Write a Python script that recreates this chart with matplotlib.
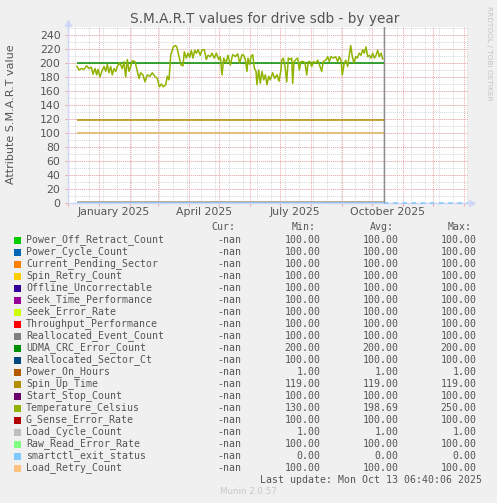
import matplotlib
matplotlib.use('Agg')
import matplotlib.pyplot as plt
from matplotlib.patches import Rectangle
from datetime import datetime, timedelta

W, H = 497, 503

# legend series (in drawing order)
names = ['Power_Off_Retract_Count', 'Power_Cycle_Count', 'Current_Pending_Sector',
         'Spin_Retry_Count', 'Offline_Uncorrectable', 'Seek_Time_Performance',
         'Seek_Error_Rate', 'Throughput_Performance', 'Reallocated_Event_Count',
         'UDMA_CRC_Error_Count', 'Reallocated_Sector_Ct', 'Power_On_Hours',
         'Spin_Up_Time', 'Start_Stop_Count', 'Temperature_Celsius',
         'G_Sense_Error_Rate', 'Load_Cycle_Count', 'Raw_Read_Error_Rate',
         'smartctl_exit_status', 'Load_Retry_Count']
colors = ['#00CC00', '#0066B3', '#FF8000', '#FFCC00', '#330099', '#990099',
          '#CCFF00', '#FF0000', '#808080', '#008F00', '#00487D', '#B35A00',
          '#B38F00', '#6B006B', '#8FB300', '#B30000', '#BEBEBE', '#80FF80',
          '#80C9FF', '#FFC080']
cur_vals = ['-nan'] * 20
min_vals = [100, 100, 100, 100, 100, 100, 100, 100, 100, 200, 100, 1,
            119, 100, 130, 100, 1, 100, 0, 100]
avg_vals = [100, 100, 100, 100, 100, 100, 100, 100, 100, 200, 100, 1,
            119, 100, 198.69, 100, 1, 100, 0, 100]
max_vals = [100, 100, 100, 100, 100, 100, 100, 100, 100, 200, 100, 1,
            119, 100, 250, 100, 1, 100, 0, 100]

# temperature trace: days after data start, value
temp_days = [0, 2, 4.3, 7, 9.7, 12, 14.3, 16, 18, 19.7, 21, 23, 25.3, 27, 28.7,
             30.3, 32, 33.7, 35.3, 37, 38.7, 40.3, 42.7, 45.3, 47, 48.7, 50.3,
             52, 53.7, 55.3, 58, 60.3, 62, 63.7, 66, 68, 70.3, 73, 75.3, 77.7,
             80.3, 82.3, 84.3, 86.3, 88.7, 90.3, 92, 93.7, 96.3, 98.7,
             100, 101.7, 104, 106, 107.3, 109.3, 111, 112.7, 114.3, 116, 117.7,
             119.3, 121, 123.3, 125, 127.3, 129.3, 131, 133.3, 135, 137.3, 139.3,
             141.7, 143.3, 145, 146.7, 149, 151, 153.3, 155.7, 158.3, 160.7,
             162.7, 165, 166.7, 168.3, 170, 171, 172.7, 174, 175.7, 177.3, 179,
             180, 181.7, 183.3, 185, 186.7, 188.3, 190, 191.7, 193.3, 195.7,
             197.7, 200, 202, 204,
             204.7, 206.3, 208, 209.7, 211.3, 213, 214.7, 215.7, 217, 219, 220.7,
             222.3, 224, 226.3, 228, 229.7, 231.3, 233, 234.7, 236.3, 238.7,
             240.7, 242.3, 244.7, 246.3, 248.7, 250.7, 252.3, 254, 256.3, 258.7,
             260.7, 262.3, 264, 265.3, 267, 268.7, 270.7, 272.3, 273.7, 275.3,
             277, 278.7, 280.3, 282.3, 284, 285.7, 287.3, 289, 290.7, 292.3, 294,
             295.7, 297.3, 299, 300.7, 302.3, 304, 305.7]
temp_vals = [195, 190, 192, 191, 196, 192, 194, 184, 192, 183, 191, 180, 190, 195,
             188, 198, 186, 195, 183, 192, 188, 195, 200, 192, 202, 180, 205, 188,
             195, 203, 202, 188, 178, 186, 183, 173, 183, 181, 186, 181, 178, 166,
             170, 166, 169, 181, 176, 211, 223, 225,
             222, 211, 197, 196, 216, 207, 214, 208, 218, 207, 218, 214, 219, 211,
             219, 219, 205, 211, 209, 214, 207, 214, 205, 209, 183, 207, 200, 211,
             197, 212, 209, 213, 200, 212, 211, 205, 188, 207, 198, 209, 212, 193,
             188, 169, 190, 171, 188, 176, 183, 169, 181, 176, 186, 178, 183, 174,
             190,
             204, 207, 195, 173, 207, 205, 207, 171, 202, 205, 207, 190, 202, 202,
             200, 183, 202, 202, 195, 202, 200, 204, 198, 188, 202, 204, 209, 202,
             209, 207, 209, 202, 209, 204, 183, 198, 204, 195, 211, 225, 209, 200,
             209, 207, 214, 211, 219, 214, 223, 209, 211, 207, 214, 207, 211, 218,
             209, 214, 206]

month_labels = ['January 2025', 'April 2025', 'July 2025', 'October 2025']
label_dates = [datetime(2025, 1, 16), datetime(2025, 4, 16),
               datetime(2025, 7, 16), datetime(2025, 10, 16)]

data_start = datetime(2024, 12, 10)
now = datetime(2025, 10, 13, 6, 40)
x0 = datetime(2024, 11, 30, 12)
x1 = x0 + timedelta(days=400)

BG = '#F0F0F0'
FONT = '#555555'
AXIS = '#CFD6F8'
MGRID = '#EFA8A8'
GRID = '#D6D6D6'

fig = plt.figure(figsize=(W / 100, H / 100), dpi=100, facecolor=BG)
ax = fig.add_axes([67.5 / W, 1 - 203 / H, 400 / W, 176 / H])
ax.set_facecolor('white')
ax.set_xlim(x0, x1)
ax.set_ylim(0, 251.4)

# grid (rrdtool style dotted)
dot = (0, (1, 1))
d = datetime(2024, 12, 8)
while d < x1:
    ax.axvline(d, color=GRID, lw=0.7, ls=dot, zorder=0)
    d += timedelta(days=14)
for v in range(10, 252, 10):
    ax.axhline(v, color=GRID, lw=0.7, ls=dot, zorder=0)
months = []
m = datetime(2024, 12, 1)
while m < x1:
    months.append(m)
    m = datetime(m.year + (m.month // 12), m.month % 12 + 1, 1)
for m in months:
    ax.axvline(m, color=MGRID, lw=0.7, ls=dot, zorder=0.5)
for v in range(20, 241, 20):
    ax.axhline(v, color=MGRID, lw=0.7, ls=dot, zorder=0.5)

# series
for i, name in enumerate(names):
    if name == 'Temperature_Celsius':
        xs = [data_start + timedelta(days=t) for t in temp_days]
        ax.plot(xs, temp_vals, color=colors[i], lw=1.1, zorder=3)
    else:
        ax.plot([data_start, now], [avg_vals[i], avg_vals[i]], color=colors[i],
                lw=1.1, zorder=3, solid_capstyle='butt')

k = names.index('smartctl_exit_status')
ax.plot([now, x1], [avg_vals[k], avg_vals[k]], color=colors[k], lw=1.1,
        ls=(0, (3, 3)), zorder=3, clip_on=False)
ax.axvline(now, color='#8C8C8C', lw=1, zorder=4)

# axes styling
for s in ['top', 'right']:
    ax.spines[s].set_visible(False)
for s in ['left', 'bottom']:
    ax.spines[s].set_color(AXIS)
    ax.spines[s].set_linewidth(1)
ax.plot([0], [1.025], marker='^', color=AXIS, ms=5, transform=ax.transAxes,
        clip_on=False)
ax.plot([1.01], [0], marker='>', color=AXIS, ms=5, transform=ax.transAxes,
        clip_on=False)

ax.set_yticks(range(0, 241, 20))
ax.set_yticklabels([str(v) for v in range(0, 241, 20)])
ax.tick_params(axis='y', length=2, color=MGRID, labelcolor=FONT,
               labelsize=7.8, pad=3)
ax.set_xticks(months)
ax.set_xticklabels([''] * len(months))
ax.tick_params(axis='x', which='major', length=2, color=MGRID)
ax.set_xticks(label_dates, minor=True)
ax.set_xticklabels(month_labels, minor=True)
ax.tick_params(axis='x', which='minor', length=0, labelcolor=FONT,
               labelsize=7.8, pad=3)

# texts
fig.text(265 / W, 1 - 19 / H, 'S.M.A.R.T values for drive sdb - by year',
         ha='center', va='center', fontsize=9.8, color=FONT)
fig.text(11 / W, 1 - 114 / H, 'Attribute S.M.A.R.T value', rotation=90,
         ha='center', va='center', fontsize=8, color=FONT)
fig.text(488.5 / W, 1 - 53 / H, 'RRDTOOL / TOBI OETIKER', rotation=270,
         ha='center', va='center', fontsize=5.3, color='#C4C4C4')

# legend
mono = 'DejaVu Sans Mono'
fs = 7.1
for label, xr in zip(['Cur:', 'Min:', 'Avg:', 'Max:'], [235, 316, 394, 472]):
    fig.text(xr / W, 1 - 227 / H, label, ha='right', va='center',
             family=mono, fontsize=fs, color=FONT)
for i, name in enumerate(names):
    y = 240 + 12 * i
    fig.add_artist(Rectangle((14 / W, 1 - (y + 3.5) / H), 6.5 / W, 6.5 / H,
                             transform=fig.transFigure, facecolor=colors[i],
                             edgecolor='none'))
    fig.text(26 / W, 1 - y / H, name, ha='left', va='center', family=mono,
             fontsize=fs, color=FONT)
    fig.text(241.7 / W, 1 - y / H, cur_vals[i], ha='right', va='center',
             family=mono, fontsize=fs, color=FONT)
    for vals, xr in zip([min_vals, avg_vals, max_vals], [320.7, 398.3, 476.7]):
        fig.text(xr / W, 1 - y / H, '%.2f' % vals[i], ha='right', va='center',
                 family=mono, fontsize=fs, color=FONT)

fig.text(482 / W, 1 - 480 / H, 'Last update: Mon Oct 13 06:40:06 2025',
         ha='right', va='center', family=mono, fontsize=fs, color=FONT)
fig.text(248 / W, 1 - 492 / H, 'Munin 2.0.57', ha='center', va='center',
         fontsize=6.3, color='#C8C8C8')

fig.savefig('out.png', dpi=100, facecolor=BG)
